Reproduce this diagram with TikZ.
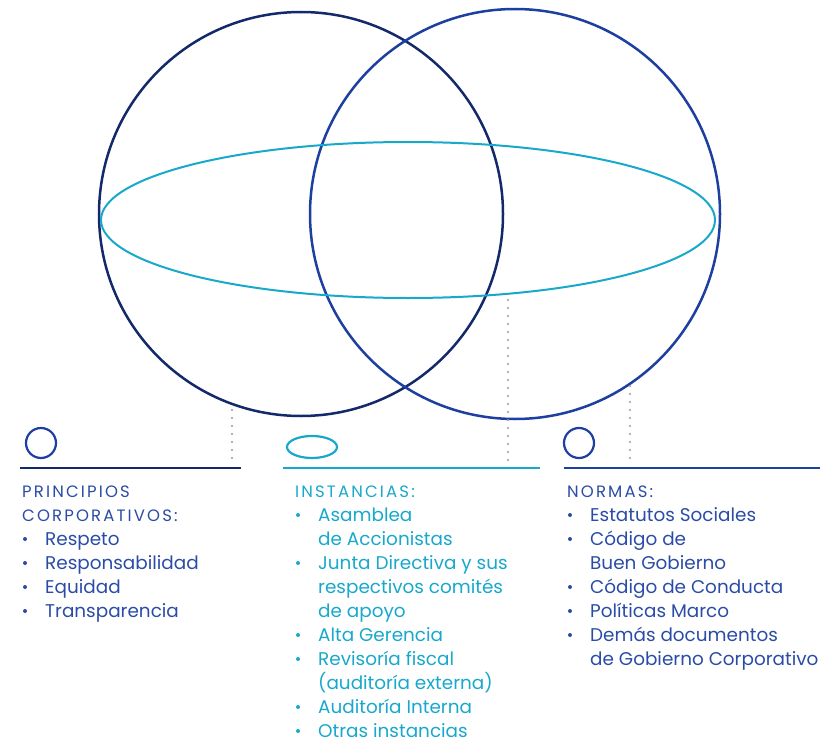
\documentclass[tikz,border=0pt]{standalone}
\usepackage{fontspec}
\setmainfont{Poppins}
\definecolor{navy}{HTML}{13296A}
\definecolor{royal}{HTML}{1C3FA0}
\definecolor{teal}{HTML}{18A8CB}
\definecolor{inkblue}{HTML}{2A4CA6}
\definecolor{dotgray}{HTML}{9A9A9A}

\tikzset{
  item/.style={anchor=base west, inner sep=0pt, font=\fontsize{18.4}{24}\selectfont},
  head/.style={anchor=base west, inner sep=0pt, font=\fontsize{16.5}{24}\selectfont\addfontfeatures{LetterSpace=13}},
  rule/.style={line width=2pt},
  guide/.style={dotgray, line width=2.2pt, line cap=round, dash pattern=on 0pt off 8pt}
}

\begin{document}
\begin{tikzpicture}[x=1pt,y=-1pt]
\useasboundingbox (0,0) rectangle (829,754);

            % big circles and ellipse
            \draw[navy, line width=2.5pt] (301,214) circle [radius=202];
            \draw[royal, line width=2.5pt] (515,214) circle [radius=205];
            \draw[teal, line width=2pt] (408,220) ellipse [x radius=307, y radius=78];

            % little icons
            \draw[royal, line width=2.2pt] (41,443) circle [radius=15];
            \draw[teal, line width=2.2pt] (312,447) ellipse [x radius=25, y radius=11];
            \draw[royal, line width=2.2pt] (579,443) circle [radius=15];

            % rules
            \coordinate (pl) at (20,468);   \coordinate (pr) at (241,468);
            \coordinate (il) at (283,468);  \coordinate (ir) at (540,468);
            \coordinate (nl) at (564,468);  \coordinate (nr) at (820,468);
            \draw[rule, navy] (pl)--(pr);
            \draw[rule, teal] (il)--(ir);
            \draw[rule, royal] (nl)--(nr);

            % dotted guides
            \coordinate (pa) at (232,410);  \coordinate (pb) at (232,458);
            \coordinate (ia) at (508,300);  \coordinate (ib) at (508,460);
            \coordinate (na) at (630,386);  \coordinate (nb) at (630,458);
            \draw[guide] (pa)--(pb);
            \draw[guide] (ia)--(ib);
            \draw[guide] (na)--(nb);

            % principios
            \node[head, inkblue] (ph1) at (22,497) {PRINCIPIOS};
            \node[head, inkblue] (ph2) at (22,521) {CORPORATIVOS:};
            \foreach \b/\txt [count=\i] in {1/Respeto,1/Responsabilidad,1/Equidad,1/Transparencia}{
              \node[item, inkblue] (p\i) at (45,521+24*\i) {\txt};
              \ifnum\b=1 \fill[inkblue] (25,515+24*\i) circle [radius=2]; \fi
            }

            % instancias
            \node[head, teal] (ih) at (295,497) {INSTANCIAS:};
            \foreach \b/\txt [count=\i] in {1/Asamblea,0/de Accionistas,1/Junta Directiva y sus,
                0/respectivos comités,0/de apoyo,1/Alta Gerencia,1/Revisoría fiscal,
                0/(auditoría externa),1/Auditoría Interna,1/Otras instancias}{
              \node[item, teal] (i\i) at (318,497+24*\i) {\txt};
              \ifnum\b=1 \fill[teal] (298,491+24*\i) circle [radius=2]; \fi
            }

            % normas
            \node[head, inkblue] (nh) at (567,497) {NORMAS:};
            \foreach \b/\txt [count=\i] in {1/Estatutos Sociales,1/Código de,0/Buen Gobierno,
                1/Código de Conducta,1/Políticas Marco,1/Demás documentos,0/de Gobierno Corporativo}{
              \node[item, inkblue] (n\i) at (590,497+24*\i) {\txt};
              \ifnum\b=1 \fill[inkblue] (570,491+24*\i) circle [radius=2]; \fi
            }

\end{tikzpicture}
\end{document}
